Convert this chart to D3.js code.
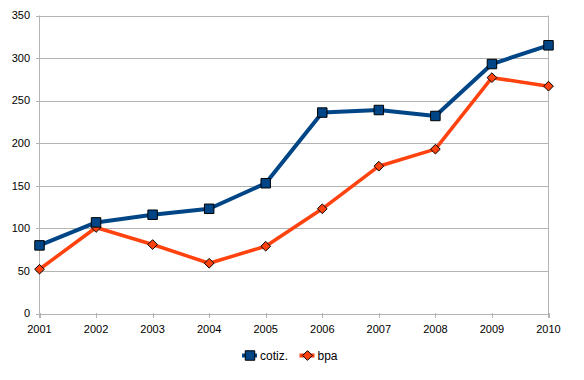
<!DOCTYPE html>
<html><head><meta charset="utf-8">
<script src="https://cdn.jsdelivr.net/npm/d3@7"></script>
<style>body{margin:0;background:#fff;}svg{display:block;font-family:"Liberation Sans",Arial,sans-serif;}</style>
</head><body>
<svg id="c" width="584" height="380"></svg>
<script>
const years = [2001,2002,2003,2004,2005,2006,2007,2008,2009,2010];
const cotiz = [80,107,116,123,153,236,239,232,293,315];
const bpa = [52,101,81,59,79,123,173,193,277,267];
const yTicks = [0,50,100,150,200,250,300,350];

const svg = d3.select("#c");
const x = d3.scalePoint().domain(years).range([39.5,548.5]);
const y = d3.scaleLinear().domain([0,350]).range([313.5,15.5]);
const grid = "#b3b3b3";

// gridlines
svg.append("g").selectAll("line").data(yTicks).join("line")
  .attr("x1",36).attr("x2",548.5).attr("y1",d=>Math.round(y(d))+0.5).attr("y2",d=>Math.round(y(d))+0.5)
  .attr("stroke",grid).attr("stroke-width",1);
// left axis & right border
svg.append("line").attr("x1",39.5).attr("x2",39.5).attr("y1",y(350)).attr("y2",318).attr("stroke",grid);
svg.append("line").attr("x1",548.5).attr("x2",548.5).attr("y1",y(350)).attr("y2",318).attr("stroke",grid);
// x ticks
svg.append("g").selectAll("line").data(years).join("line")
  .attr("x1",d=>Math.round(x(d))+0.5).attr("x2",d=>Math.round(x(d))+0.5).attr("y1",313).attr("y2",318)
  .attr("stroke",grid);
// y labels
svg.append("g").selectAll("text").data(yTicks).join("text")
  .attr("x",30).attr("y",d=>y(d)).attr("dy","0.35em").attr("text-anchor","end")
  .attr("font-size",11).attr("fill","#000").text(d=>d);
// x labels
svg.append("g").selectAll("text").data(years).join("text")
  .attr("x",d=>x(d)).attr("y",329).attr("dy","0.35em").attr("text-anchor","middle")
  .attr("font-size",11).attr("fill","#000").text(d=>d);

const line = d3.line().x((d,i)=>x(years[i])).y(d=>y(d));
svg.append("path").datum(cotiz).attr("d",line).attr("fill","none").attr("stroke","#004586").attr("stroke-width",4).attr("stroke-linejoin","round");
svg.append("path").datum(bpa).attr("d",line).attr("fill","none").attr("stroke","#ff420e").attr("stroke-width",3.5).attr("stroke-linejoin","round");

const sq = d3.symbol().type(d3.symbolSquare).size(90);
const di = d3.symbol().type(d3.symbolDiamond2).size(60);
svg.append("g").selectAll("path").data(bpa).join("path")
  .attr("d",di).attr("transform",(d,i)=>`translate(${x(years[i])},${y(d)})`)
  .attr("fill","#ff420e").attr("stroke","#000").attr("stroke-width",1);
svg.append("g").selectAll("path").data(cotiz).join("path")
  .attr("d",sq).attr("transform",(d,i)=>`translate(${x(years[i])},${y(d)})`)
  .attr("fill","#004586").attr("stroke","#000").attr("stroke-width",1);

// legend
const leg = [{name:"cotiz.",c:"#004586",s:sq,x0:242,w:4},{name:"bpa",c:"#ff420e",s:di,x0:299.5,w:4}];
const lg = svg.append("g");
leg.forEach(l=>{
  lg.append("line").attr("x1",l.x0).attr("x2",l.x0+15).attr("y1",355.5).attr("y2",355.5).attr("stroke",l.c).attr("stroke-width",l.w);
  lg.append("path").attr("d",l.s).attr("transform",`translate(${l.x0+8},355.5)`).attr("fill",l.c).attr("stroke","#000");
  lg.append("text").attr("x",l.x0+18).attr("y",355.5).attr("dy","0.35em").attr("font-size",12).text(l.name);
});
</script>
</body></html>
